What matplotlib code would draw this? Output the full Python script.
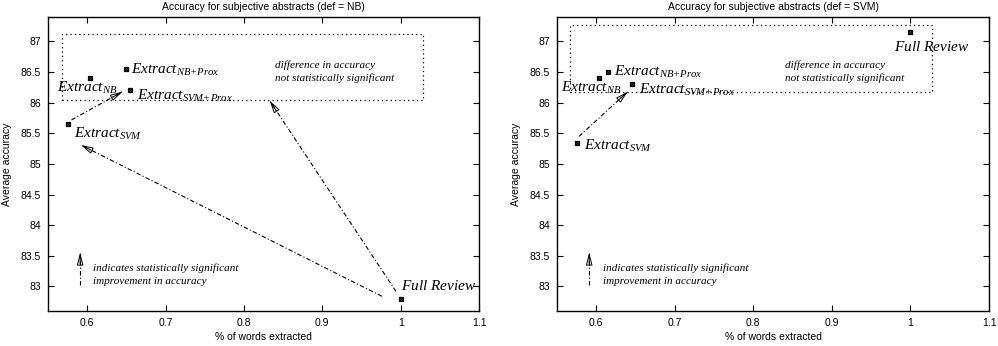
import numpy as np
import matplotlib
matplotlib.use("Agg")
import matplotlib.pyplot as plt
from matplotlib.patches import Rectangle

plt.rcParams['font.family'] = ['Liberation Sans', 'DejaVu Sans']
plt.rcParams['mathtext.fontset'] = 'custom'
plt.rcParams['mathtext.it'] = 'Liberation Serif:italic'
plt.rcParams['mathtext.rm'] = 'Liberation Serif:italic'
plt.rcParams['mathtext.default'] = 'it'

# data: (% words extracted, average accuracy)
names = ['NB', 'NB+Prox', 'SVM+Prox', 'SVM', 'Full']
titles = ['Accuracy for subjective abstracts (def = NB)',
          'Accuracy for subjective abstracts (def = SVM)']
x_nb = [0.603, 0.649, 0.654, 0.575, 1.0]
y_nb = [86.40, 86.55, 86.20, 85.65, 82.80]
x_svm = [0.603, 0.615, 0.645, 0.575, 1.0]
y_svm = [86.40, 86.50, 86.30, 85.35, 87.15]

labels = [r'$Extract_{NB}$', r'$Extract_{NB{+}Prox}$', r'$Extract_{SVM{+}Prox}$',
          r'$Extract_{SVM}$', r'$Full\ Review$']
# label anchor (left, baseline)
lab_nb = [(0.562, 86.18), (0.656, 86.475), (0.664, 86.05), (0.583, 85.42), (1.001, 82.95)]
lab_svm = [(0.555, 86.18), (0.623, 86.44), (0.655, 86.15), (0.585, 85.23), (0.979, 86.84)]

# significance arrows (start, end)
arr_nb = [((0.58, 85.72), (0.645, 86.18)),
          ((0.976, 82.84), (0.592, 85.31)),
          ((0.994, 82.92), (0.833, 86.03))]
arr_svm = [((0.578, 85.45), (0.64, 86.18))]
arr_key = ((0.591, 83.02), (0.591, 83.55))

# not-significant boxes (x0, y0, x1, y1)
box_nb = (0.568, 86.05, 1.029, 87.13)
box_svm = (0.567, 86.18, 1.028, 87.27)

fig = plt.figure(figsize=(9.98, 3.46), dpi=100)
ax1 = fig.add_axes([0.0481, 0.1012, 0.4319, 0.8497])
ax2 = fig.add_axes([0.5581, 0.1012, 0.4329, 0.8497])

HL = 0.75
head_props = dict(arrowstyle=f'-|>,head_length={HL},head_width=0.2',
                  lw=0.7, fc='none', ec='black', shrinkA=0, shrinkB=0)


def sig_arrow(ax, s, e):
    ax.plot([s[0], e[0]], [s[1], e[1]], color='black', lw=0.8,
            linestyle=(0, (4, 2, 1, 2)))
    ps = ax.transData.transform(s)
    pe = ax.transData.transform(e)
    u = (pe - ps) / np.hypot(*(pe - ps))
    off = -u * (HL * 10 + 0.5)
    ax.annotate('', xy=e, xytext=(off[0], off[1]), textcoords='offset points',
                arrowprops=head_props)


for ax, xs, ys, labs, arrs, box, title in [
        (ax1, x_nb, y_nb, lab_nb, arr_nb, box_nb, titles[0]),
        (ax2, x_svm, y_svm, lab_svm, arr_svm, box_svm, titles[1])]:
    ax.set_xlim(0.55, 1.1)
    ax.set_ylim(82.6, 87.4)
    ax.plot(xs, ys, 's', ms=3, color='black', mfc='white', mew=0.9)
    ax.plot(xs, ys, 'x', ms=3.5, color='black', mew=0.9)
    for (lx, ly), t in zip(labs, labels):
        ax.text(lx, ly, t, fontsize=11, ha='left', va='baseline')
    for s, e in arrs:
        sig_arrow(ax, s, e)
    ax.add_patch(Rectangle((box[0], box[1]), box[2] - box[0], box[3] - box[1],
                           fill=False, linestyle=(0, (1, 2.5)), lw=0.9, ec='black'))
    ax.text(0.84, 86.57, 'difference in accuracy', fontsize=8,
            family='Liberation Serif', style='italic', va='baseline')
    ax.text(0.84, 86.35, 'not statistically significant', fontsize=8,
            family='Liberation Serif', style='italic', va='baseline')
    # key for significance arrow
    sig_arrow(ax, *arr_key)
    ax.text(0.608, 83.26, 'indicates statistically significant', fontsize=8,
            family='Liberation Serif', style='italic', va='baseline')
    ax.text(0.608, 83.04, 'improvement in accuracy', fontsize=8,
            family='Liberation Serif', style='italic', va='baseline')

    ax.set_xticks([0.6, 0.7, 0.8, 0.9, 1.0, 1.1])
    ax.set_xticklabels(['0.6', '0.7', '0.8', '0.9', '1', '1.1'])
    ax.set_yticks([83, 83.5, 84, 84.5, 85, 85.5, 86, 86.5, 87])
    ax.set_yticklabels(['83', '83.5', '84', '84.5', '85', '85.5', '86', '86.5', '87'])
    ax.tick_params(direction='in', top=True, right=True, length=4, width=0.8,
                   labelsize=7.5, pad=5)
    for sp in ax.spines.values():
        sp.set_linewidth(1.0)
    ax.set_title(title, fontsize=7.5, pad=5)
    ax.set_xlabel('% of words extracted', fontsize=7.5, labelpad=3)
    ax.set_ylabel('Average accuracy', fontsize=7.5, labelpad=6)

fig.savefig('out.png', dpi=100)
